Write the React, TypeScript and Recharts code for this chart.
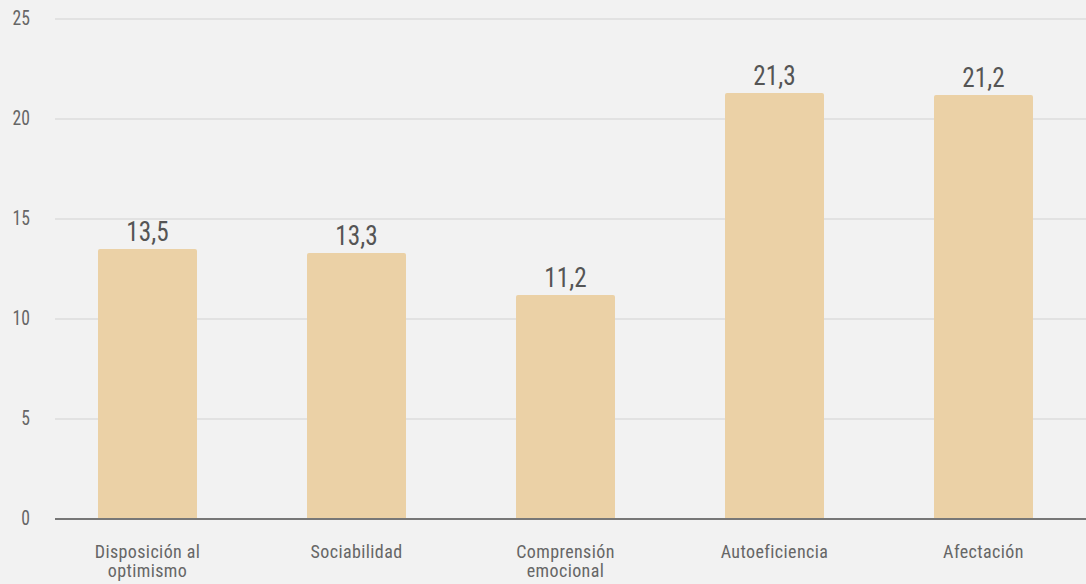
import { Bar, BarChart, CartesianGrid, LabelList, XAxis, YAxis } from "recharts";

const categories = ["Disposición al optimismo", "Sociabilidad", "Comprensión emocional", "Autoeficiencia", "Afectación"];
const tickLines = [["Disposición al", "optimismo"], ["Sociabilidad"], ["Comprensión", "emocional"], ["Autoeficiencia"], ["Afectación"]];
const values = [13.5, 13.3, 11.2, 21.3, 21.2];
const yTicks = [0, 5, 10, 15, 20, 25];

const FONT = "'Roboto Condensed', Roboto, sans-serif";

const data = categories.map((name, i) => ({ name, value: values[i] }));

// narrow the text around its anchor so plain Roboto looks like the condensed cut
const squeeze = (x: number, k: number) => `translate(${x},0) scale(${k},1) translate(${-x},0)`;

function CategoryTick({ x, y, index }: any) {
  const lines = tickLines[index] ?? [];
  return (
    <text x={x} y={y} textAnchor="middle" fill="#666" fontSize={18} letterSpacing={0.4} fontFamily={FONT}>
      {lines.map((l, i) => (
        <tspan key={i} x={x} dy={i === 0 ? 31 : 19}>
          {l}
        </tspan>
      ))}
    </text>
  );
}

function ValueTick({ x, y, payload }: any) {
  return (
    <text x={x} y={y} dy={6} textAnchor="end" fill="#666" fontSize={20} fontFamily={FONT} transform={squeeze(x, 0.88)}>
      {payload.value}
    </text>
  );
}

function BarValue({ x, y, width, value }: any) {
  const cx = x + width / 2;
  return (
    <text x={cx} y={y - 8} textAnchor="middle" fill="#555" fontSize={28} fontFamily={FONT} transform={squeeze(cx, 0.9)}>
      {Number(value).toFixed(1).replace(".", ",")}
    </text>
  );
}

export default function App() {
  return (
    <div style={{ position: "fixed", left: 0, top: 0, width: 1086, height: 584, background: "#f2f2f2", fontFamily: FONT }}>
      <BarChart width={1086} height={584} data={data} margin={{ top: 19, right: 0, left: 0, bottom: 0 }}>
        <CartesianGrid vertical={false} stroke="#dcdcdc" strokeWidth={1.5} />
        <XAxis
          dataKey="name"
          padding={{ left: -12, right: -2 }}
          axisLine={{ stroke: "#777", strokeWidth: 2 }}
          tickLine={false}
          interval={0}
          height={65}
          tick={<CategoryTick />}
        />
        <YAxis
          domain={[0, 25]}
          ticks={yTicks}
          width={55}
          axisLine={false}
          tickLine={false}
          tickMargin={19}
          tick={<ValueTick />}
        />
        <Bar dataKey="value" fill="#ebd1a6" barSize={99} radius={[2, 2, 0, 0]} isAnimationActive={false}>
          <LabelList dataKey="value" content={<BarValue />} />
        </Bar>
      </BarChart>
    </div>
  );
}
